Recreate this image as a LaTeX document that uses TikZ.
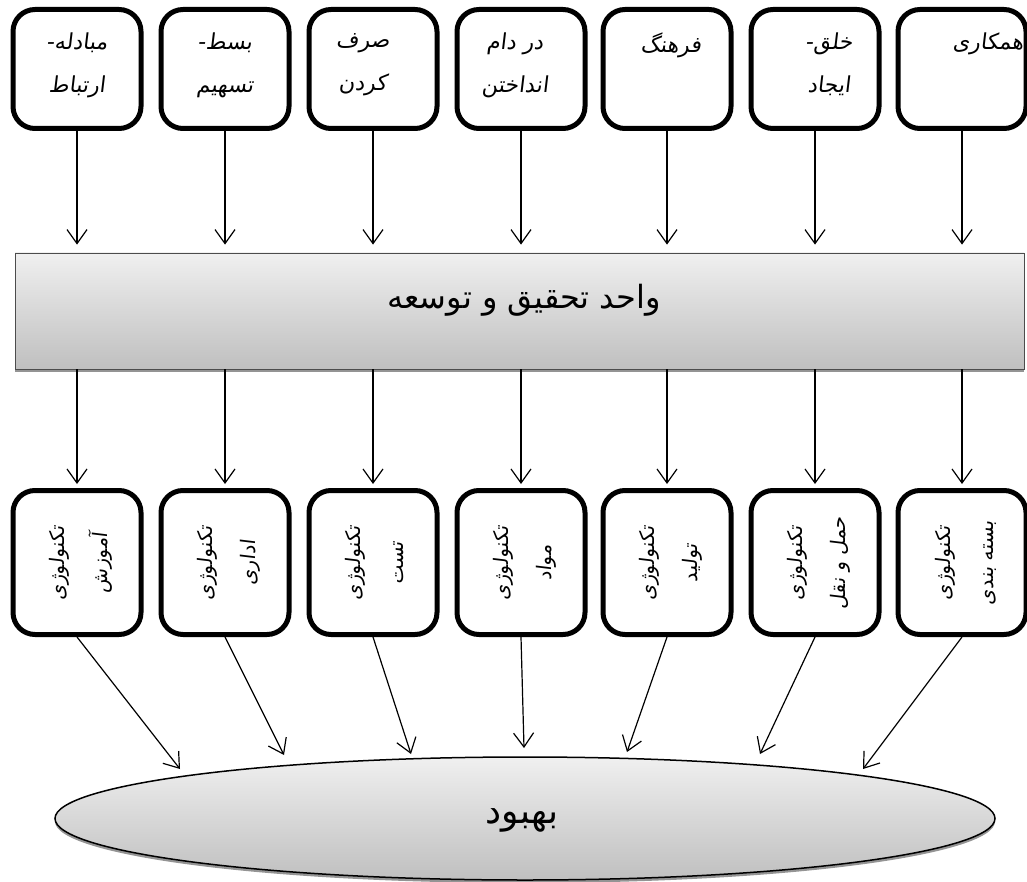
\documentclass[tikz,border=0pt]{standalone}
\usepackage{fontspec}
\usetikzlibrary{arrows.meta,shapes.geometric,shadows}
\TeXXeTstate=1
\newfontfamily\fa[Script=Arabic]{DejaVu Sans}
\newfontfamily\fai[Script=Arabic,FakeSlant=0.12]{DejaVu Sans}
\newcommand\rtl[1]{\beginR #1\endR}

\begin{document}
\begin{tikzpicture}[x=1pt,y=-1pt,
  box/.style={draw, line width=5pt, rounded corners=22pt, fill=white,
    minimum width=128pt, minimum height=119pt, inner sep=0pt},
  lowbox/.style={box, minimum height=144pt},
  toplabel/.style={anchor=north, align=center, inner sep=0pt,
    font=\fai\fontsize{22}{43}\selectfont},
  sidelabel/.style={rotate=90, align=center, inner sep=0pt,
    font=\fai\fontsize{20}{43}\selectfont},
  arr/.style={line width=1.2pt,
    -{Straight Barb[length=14pt,width=20pt,line width=1.2pt]}},
  softshadow/.style={drop shadow={shadow xshift=0pt, shadow yshift=-3pt,
    fill=gray!80!black, opacity=0.7}},
]
\useasboundingbox (0,0) rectangle (1027,882);

% input boxes
\node[box] (t1) at (77,69) {};
\node[box] (t2) at (225,69) {};
\node[box] (t3) at (373,69) {};
\node[box] (t4) at (521,69) {};
\node[box] (t5) at (667,69) {};
\node[box] (t6) at (815,69) {};
\node[box] (t7) at (962,69) {};

\node[toplabel] (l1) at (77,33) {\rtl{مبادله-}\\\rtl{ارتباط}};
\node[toplabel] (l2) at (225,33) {\rtl{بسط-}\\\rtl{تسهیم}};
\node[toplabel] (l3) at (363,33) {\rtl{صرف}\\\rtl{کردن}};
\node[toplabel] (l4) at (515,33) {\rtl{در دام}\\\rtl{انداختن}};
\node[toplabel] (l5) at (671,33) {\rtl{فرهنگ}};
\node[toplabel] (l6) at (829,33) {\rtl{خلق-}\\\rtl{ایجاد}};
\node[toplabel] (l7) at (988,33) {\rtl{همکاری}};

% research and development unit
\node[draw=gray!60!black, line width=0.8pt, top color=gray!12, bottom color=gray!50,
  minimum width=1009pt, minimum height=116pt, inner sep=0pt, softshadow]
  (bar) at (519.5,311) {};
\node[inner sep=0pt, font=\fa\fontsize{32}{36}\selectfont] (bartext) at (524,300)
  {\rtl{واحد تحقیق و توسعه}};

% technology boxes
\node[lowbox] (b1) at (77,562.5) {};
\node[lowbox] (b2) at (225,562.5) {};
\node[lowbox] (b3) at (373,562.5) {};
\node[lowbox] (b4) at (521,562.5) {};
\node[lowbox] (b5) at (667,562.5) {};
\node[lowbox] (b6) at (815,562.5) {};
\node[lowbox] (b7) at (962,562.5) {};

\node[sidelabel] (s1) at (81,563) {\rtl{تکنولوژی}\\\rtl{آموزش}};
\node[sidelabel] (s2) at (229,563) {\rtl{تکنولوژی}\\\rtl{اداری}};
\node[sidelabel] (s3) at (375,563) {\rtl{تکنولوژی}\\\rtl{تست}};
\node[sidelabel] (s4) at (525,563) {\rtl{تکنولوژی}\\\rtl{مواد}};
\node[sidelabel] (s5) at (671,563) {\rtl{تکنولوژی}\\\rtl{تولید}};
\node[sidelabel] (s6) at (819,563) {\rtl{تکنولوژی}\\\rtl{حمل و نقل}};
\node[sidelabel] (s7) at (966,563) {\rtl{تکنولوژی}\\\rtl{بسته بندی}};

% improvement
\node[ellipse, draw, line width=1.5pt, top color=gray!12, bottom color=gray!50,
  minimum width=940pt, minimum height=123pt, inner sep=0pt, softshadow]
  (imp) at (525,818.5) {};
\node[inner sep=0pt, font=\fa\fontsize{36}{40}\selectfont] (imptext) at (522,820)
  {\rtl{بهبود}};

% arrow end points on the ellipse
\coordinate (e1) at (180,769);
\coordinate (e2) at (284,755);
\coordinate (e3) at (411,754);
\coordinate (e4) at (524,748);
\coordinate (e5) at (627,752);
\coordinate (e6) at (760,754);
\coordinate (e7) at (863,769);

\foreach \i in {1,...,7}{
  \draw[arr, shorten >=8pt] (t\i.south) -- (t\i.south |- bar.north);
  \draw[arr, shorten >=4pt] (bar.south -| b\i.north) -- (b\i.north);
  \draw[arr] (b\i.south) -- (e\i);
}
\end{tikzpicture}
\end{document}
